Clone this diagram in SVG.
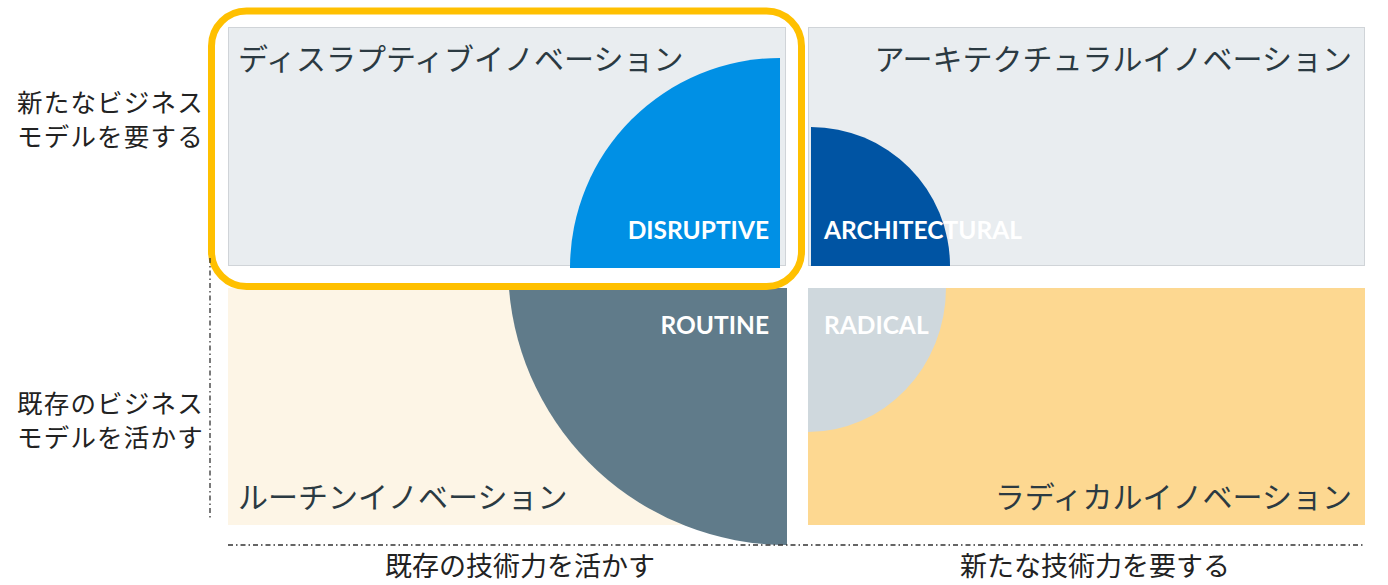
<svg xmlns="http://www.w3.org/2000/svg" width="1388" height="585" viewBox="0 0 1388 585">
<style>
.q{stroke:#d0d4d8;stroke-width:1}
.jp{font-family:"Noto Sans CJK JP","Noto Sans",sans-serif;fill:#2b3a42}
.big{font-size:30px}
.ax{font-size:27px;fill:#222}
.side{font-size:25.5px;letter-spacing:1.2px}
.en{font-family:Lato,"Open Sans",sans-serif;font-weight:bold;font-size:24.5px;fill:#fff}
.dd{fill:none;stroke:#333;stroke-width:1.3;stroke-dasharray:5 3 1.5 3}
</style>
<rect width="1388" height="585" fill="#fff"/>
<g id="q-architectural">
<rect class="q" x="808.5" y="27.5" width="556" height="238" fill="#e9edf0"/>
<path d="M811 266 V127 A139 139 0 0 1 950 266 Z" fill="#0054a3"/>
<text class="jp big" x="1352" y="70" text-anchor="end">アーキテクチュラルイノベーション</text>
<text class="en" x="824" y="239">ARCHITECTURAL</text>
</g>
<g id="q-radical">
<rect x="808" y="288" width="557" height="237" fill="#fdd891"/>
<path d="M808 288 H946 A138 144 0 0 1 808 432 Z" fill="#cfd8dd"/>
<text class="jp big" x="1352" y="508" text-anchor="end">ラディカルイノベーション</text>
<text class="en" x="824" y="334">RADICAL</text>
</g>
<g id="q-routine">
<rect x="228" y="288" width="559" height="237" fill="#fdf5e6"/>
<path d="M787 288 H508.9 A279 279 0 0 0 787 545 Z" fill="#607b8a"/>
<text class="jp big" x="238" y="508">ルーチンイノベーション</text>
<text class="en" x="769" y="334" text-anchor="end">ROUTINE</text>
</g>
<g id="q-disruptive">
<rect class="q" x="228.5" y="27.5" width="557" height="238" fill="#e9edf0"/>
<path d="M780 268 H570 A210 210 0 0 1 780 58 Z" fill="#0090e5"/>
<text class="jp big" x="238" y="70">ディスラプティブイノベーション</text>
<text class="en" x="769" y="239" text-anchor="end">DISRUPTIVE</text>
</g>
<g id="highlight">
<rect x="211.5" y="11" width="590" height="275.5" rx="35" fill="none" stroke="#ffc000" stroke-width="7"/>
</g>
<g id="connectors">
<line class="dd" x1="210" y1="258" x2="210" y2="518"/>
<line class="dd" x1="228" y1="545" x2="1365" y2="545"/>
</g>
<g id="labels">
<text class="jp ax side" x="17" y="112">新たなビジネス</text>
<text class="jp ax side" x="17" y="146">モデルを要する</text>
<text class="jp ax side" x="17" y="413">既存のビジネス</text>
<text class="jp ax side" x="17" y="447">モデルを活かす</text>
<text class="jp ax" x="520" y="576" text-anchor="middle">既存の技術力を活かす</text>
<text class="jp ax" x="1095" y="576" text-anchor="middle">新たな技術力を要する</text>
</g>
</svg>
